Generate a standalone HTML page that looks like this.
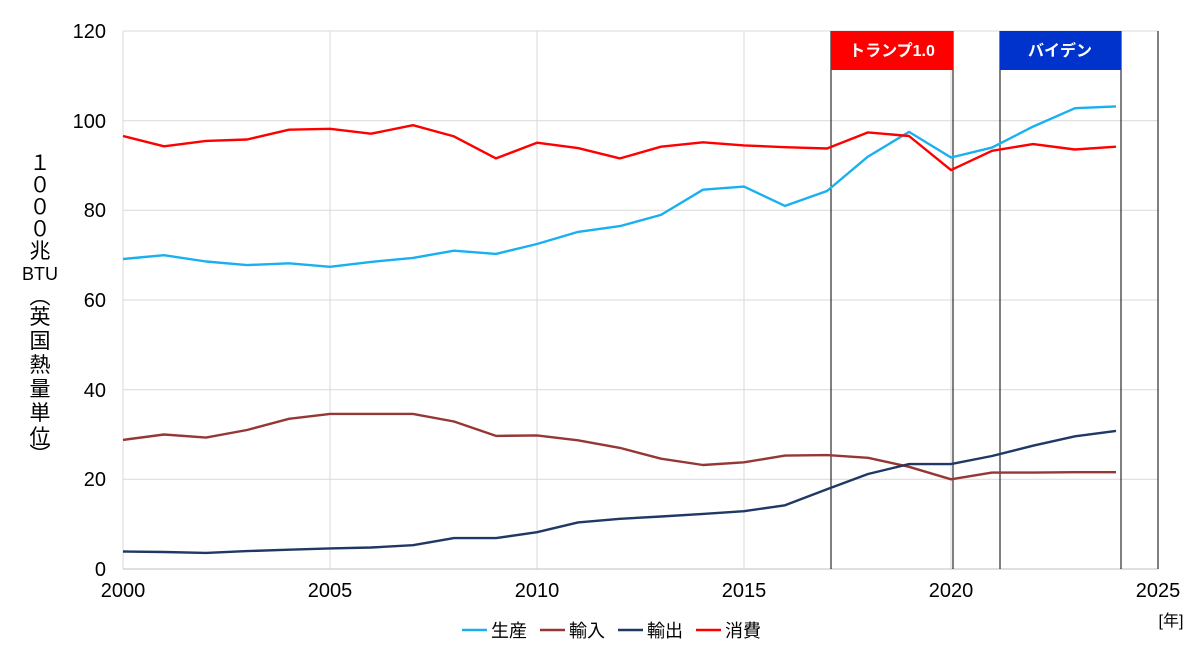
<!DOCTYPE html>
<html><head><meta charset="utf-8"><style>
body{margin:0;background:#fff;}
svg text{font-family:"Liberation Sans","Noto Sans CJK JP",sans-serif;}
</style></head><body>
<svg width="1200" height="666" viewBox="0 0 1200 666" xmlns="http://www.w3.org/2000/svg">
<g stroke="#d9d9d9" stroke-width="1">
<line x1="123" y1="31" x2="1158" y2="31"/><line x1="123" y1="120.7" x2="1158" y2="120.7"/>
<line x1="123" y1="210.3" x2="1158" y2="210.3"/><line x1="123" y1="300" x2="1158" y2="300"/>
<line x1="123" y1="389.7" x2="1158" y2="389.7"/><line x1="123" y1="479.3" x2="1158" y2="479.3"/>
<line x1="123" y1="31" x2="123" y2="569"/><line x1="330" y1="31" x2="330" y2="569"/>
<line x1="537" y1="31" x2="537" y2="569"/><line x1="744" y1="31" x2="744" y2="569"/>
<line x1="951" y1="31" x2="951" y2="569"/>
</g>
<line x1="123" y1="569" x2="1158" y2="569" stroke="#bfbfbf"/>
<g stroke="#000" stroke-width="1">
<line x1="831" y1="31" x2="831" y2="569"/><line x1="953" y1="31" x2="953" y2="569"/>
<line x1="1000" y1="31" x2="1000" y2="569"/><line x1="1121" y1="31" x2="1121" y2="569"/>
<line x1="1158" y1="31" x2="1158" y2="569"/>
</g>
<rect x="831" y="31" width="122" height="39" fill="#ff0000"/>
<rect x="1000" y="31" width="121" height="39" fill="#0033cc"/>
<text x="892" y="56" fill="#fff" font-size="16" font-weight="bold" text-anchor="middle">トランプ1.0</text>
<text x="1060" y="56" fill="#fff" font-size="16" font-weight="bold" text-anchor="middle">バイデン</text>
<g font-size="20" fill="#000" text-anchor="end">
<text x="106" y="38">120</text><text x="106" y="128">100</text><text x="106" y="217">80</text>
<text x="106" y="307">60</text><text x="106" y="397">40</text><text x="106" y="486">20</text><text x="106" y="576">0</text>
</g>
<g font-size="20" fill="#000" text-anchor="middle">
<text x="123" y="597">2000</text><text x="330" y="597">2005</text><text x="537" y="597">2010</text>
<text x="744" y="597">2015</text><text x="951" y="597">2020</text><text x="1158" y="597">2025</text>
</g>
<text x="1171" y="626" font-size="16" text-anchor="middle">[年]</text>
<g font-size="21" fill="#000" text-anchor="middle">
<text x="40" y="170">１</text><text x="40" y="192">０</text><text x="40" y="214">０</text><text x="40" y="236">０</text>
<text x="40" y="258">兆</text><text x="40" y="280" font-size="18">BTU</text>
<text x="40" y="304">︵</text><text x="40" y="324">英</text><text x="40" y="348">国</text><text x="40" y="372">熱</text>
<text x="40" y="396">量</text><text x="40" y="420">単</text><text x="40" y="444">位</text><text x="40" y="462">︶</text>
</g>
<g fill="none" stroke-width="2.4" stroke-linejoin="round">
<polyline stroke="#1ab0f0" points="123,259 164,255.2 206,261.5 247,265.1 289,263.3 330,266.8 371,261.9 413,257.9 454,250.7 496,253.9 537,244 578,231.9 620,226.1 661,214.9 703,189.7 744,186.6 785,205.9 827,191 868,156.6 909,131.9 951,157.5 992,147.6 1033,126.6 1075,108.2 1116,106.4"/>
<polyline stroke="#ff0000" points="123,136 164,146.3 206,140.9 247,139.5 289,129.7 330,128.8 371,133.7 413,125.2 454,136.4 496,158.4 537,142.7 578,148.1 620,158.4 661,146.7 703,142.3 744,145.4 785,147.2 827,148.5 868,132.4 909,136 951,170.1 992,150.8 1033,144.1 1075,149.5 1116,146.7"/>
<polyline stroke="#953735" points="123,439.9 164,434.5 206,437.6 247,430 289,418.8 330,413.9 371,413.9 413,413.9 454,421.5 496,435.9 537,435.4 578,440.3 620,447.9 661,458.7 703,465 744,462.3 785,455.6 827,455.1 868,457.8 909,466.8 951,479.3 992,472.6 1033,472.6 1075,472.2 1116,472.2"/>
<polyline stroke="#1f3864" points="123,551.5 164,552 206,552.9 247,551.1 289,549.7 330,548.4 371,547.5 413,545.2 454,538.1 496,538.1 537,532.2 578,522.4 620,518.8 661,516.5 703,513.9 744,511.2 785,505.3 827,489.2 868,474 909,464.1 951,464.1 992,456 1033,445.7 1075,436.3 1116,430.9"/>
</g>
<g font-size="18" fill="#000">
<line x1="462" y1="630" x2="487" y2="630" stroke="#1ab0f0" stroke-width="2.4"/><text x="491" y="637">生産</text>
<line x1="540" y1="630" x2="565" y2="630" stroke="#953735" stroke-width="2.4"/><text x="569" y="637">輸入</text>
<line x1="618" y1="630" x2="643" y2="630" stroke="#1f3864" stroke-width="2.4"/><text x="647" y="637">輸出</text>
<line x1="696" y1="630" x2="721" y2="630" stroke="#ff0000" stroke-width="2.4"/><text x="725" y="637">消費</text>
</g>
</svg>
</body></html>
